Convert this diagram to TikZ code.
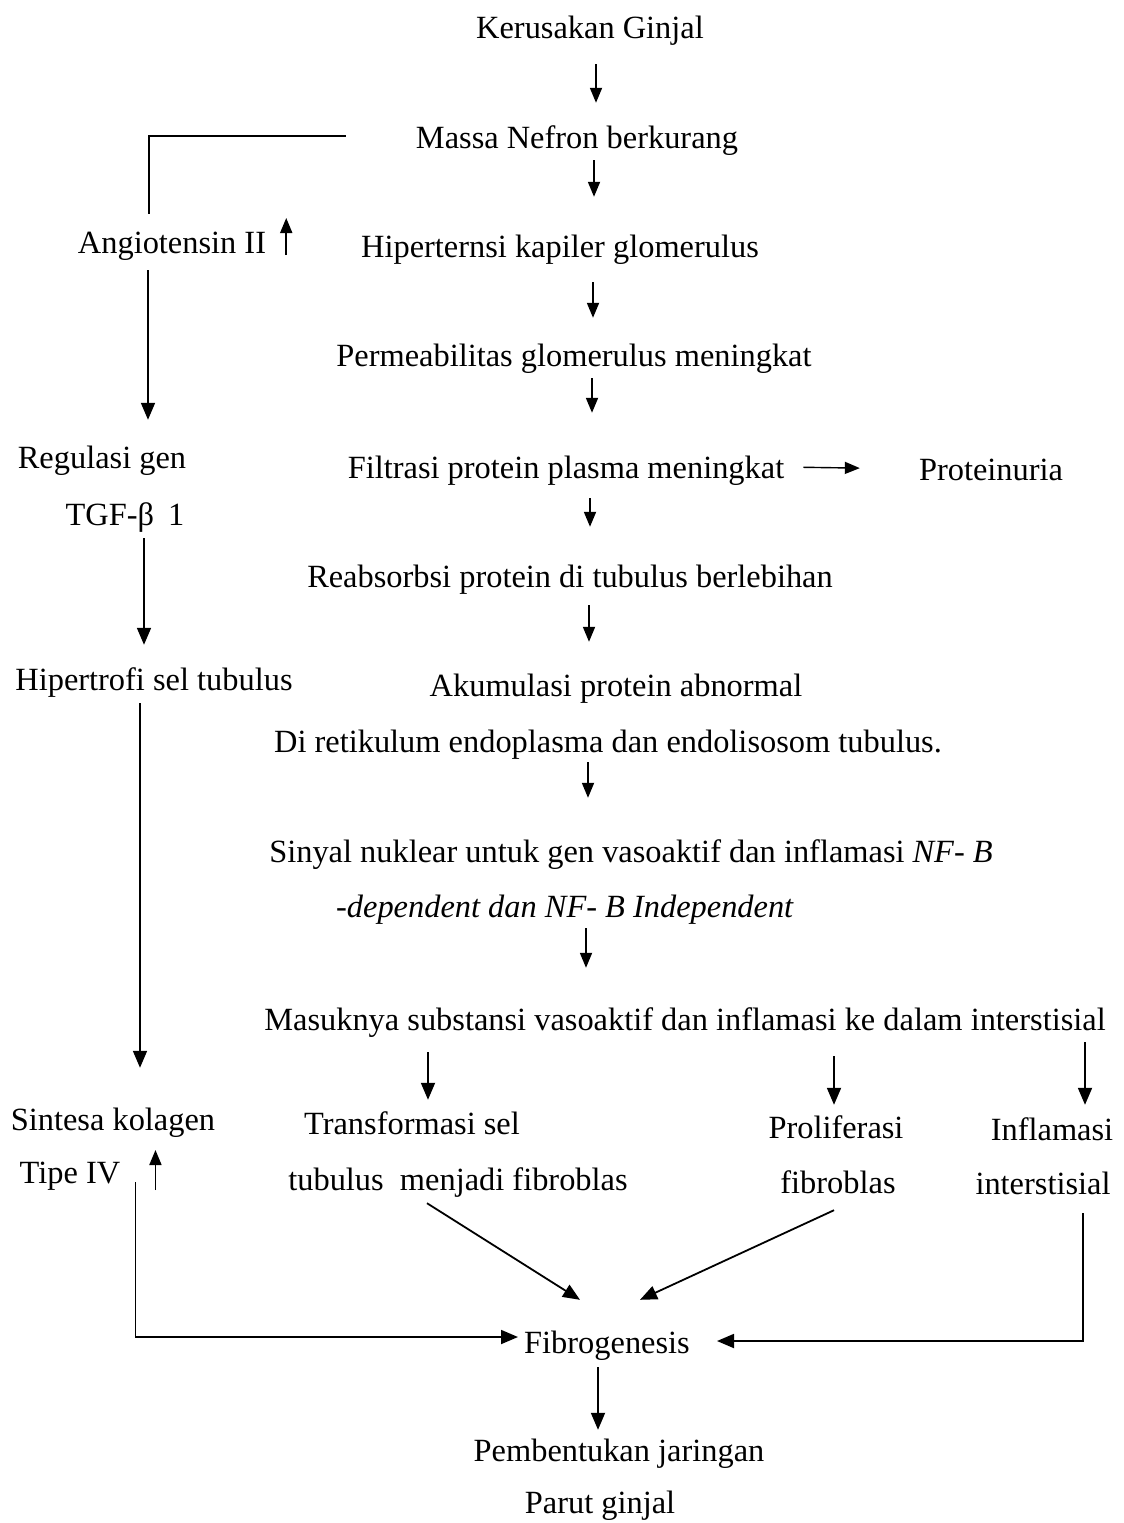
\documentclass[tikz,border=0pt]{standalone}
\usepackage{fontspec}
\setmainfont{Liberation Serif}
\usetikzlibrary{arrows.meta}
\begin{document}
\begin{tikzpicture}[x=1pt,y=-1pt,
  every node/.style={inner sep=0pt,anchor=base,text height=22pt,text depth=7pt,
    font=\rmfamily\fontsize{32.4}{38}\selectfont},
  link/.style={line width=1.8pt},
  arr/.style={link,-{Triangle[length=17pt,width=14pt]}},
  sarr/.style={link,-{Triangle[length=15pt,width=12pt]}}]
\useasboundingbox (0,0) rectangle (1124,1523);

% main column
\node (ker) at (590,38) {Kerusakan Ginjal};
\node (mas) at (577,148) {Massa Nefron berkurang};
\node (hip) at (560,257) {Hiperternsi kapiler glomerulus};
\node (per) at (574,366) {Permeabilitas glomerulus meningkat};
\node (fil) at (566,478) {Filtrasi protein plasma meningkat};
\node (pro) at (991,480) {Proteinuria};
\node (rea) at (570,587) {Reabsorbsi protein di tubulus berlebihan};
\node (aku) at (616,696) {Akumulasi protein abnormal};
\node (dir) at (608,752) {Di retikulum endoplasma dan endolisosom tubulus.};
\node (sin) at (631,862) {Sinyal nuklear untuk gen vasoaktif dan inflamasi \textit{NF- B}};
\node (dep) at (565,917) {\textit{-dependent dan NF- B Independent}};
\node (msk) at (685,1030) {Masuknya substansi vasoaktif dan inflamasi ke dalam interstisial};

% three outcomes
\node (traA) at (412,1134) {Transformasi sel};
\node (traB) at (458,1190) {tubulus\ \ menjadi fibroblas};
\node (prlA) at (836,1138) {Proliferasi};
\node (prlB) at (838,1193) {fibroblas};
\node (infA) at (1052,1140) {Inflamasi};
\node (infB) at (1043,1194) {interstisial};

% left column
\node (ang) at (172,253) {Angiotensin II};
\node (reg) at (102,468) {Regulasi gen};
\node (tgf) at (125,525) {TGF-β\hspace{14pt}1};
\node (hpt) at (154,690) {Hipertrofi sel tubulus};
\node (sinA) at (113,1130) {Sintesa kolagen};
\node (sinB) at (70,1183) {Tipe IV};

% bottom
\node (fib) at (607,1353) {Fibrogenesis};
\node (pem) at (619,1461) {Pembentukan jaringan};
\node (par) at (600,1513) {Parut ginjal};

% main column arrows
\draw[sarr,shorten <=19pt,shorten >=23pt] (ker.south -| 596,0) -- (mas.north -| 596,0);
\draw[sarr,shorten <=5pt,shorten >=38pt] (mas.south -| 594,0) -- (hip.north -| 594,0);
\draw[sarr,shorten <=18pt,shorten >=26pt] (hip.south -| 593,0) -- (per.north -| 593,0);
\draw[sarr,shorten <=5pt,shorten >=43pt] (per.south -| 592,0) -- (fil.north -| 592,0);
\draw[sarr,shorten <=13pt,shorten >=38pt] (fil.south -| 590,0) -- (rea.north -| 590,0);
\draw[sarr,shorten <=11pt,shorten >=32pt] (rea.south -| 589,0) -- (aku.north -| 589,0);
\draw[sarr,shorten <=3pt,shorten >=42pt] (dir.south -| 588,0) -- (sin.north -| 588,0);
\draw[sarr,shorten <=4pt,shorten >=40pt] (dep.south -| 586,0) -- (msk.north -| 586,0);
\draw[sarr,line width=1.4pt,shorten <=19pt,shorten >=59pt]
  ([yshift=11pt]fil.base east) -- ([yshift=11pt]pro.base west);

% branches into the outcomes
\draw[arr,shorten <=15pt,shorten >=12pt] (msk.south -| 428,0) -- (traA.north -| 428,0);
\draw[arr,shorten <=19pt,shorten >=11pt] (msk.south -| 834,0) -- (prlA.north -| 834,0);
\draw[arr,shorten <=5pt,shorten >=13pt] (msk.south -| 1085,0) -- (infA.north -| 1085,0);

% outcomes into fibrogenesis
\draw[arr] ([xshift=-31pt,yshift=-6pt]traB.south) -- ([xshift=-27pt,yshift=31pt]fib.north);
\draw[arr] ([xshift=-4pt,yshift=-10pt]prlB.south) -- ([xshift=33pt,yshift=31pt]fib.north);
\draw[arr,shorten >=6pt] ([xshift=15pt,yshift=1pt]sinB.base east) |- ([yshift=16pt]fib.base west);
\draw[arr,shorten <=12pt,shorten >=27pt] (infB.south -| 1083,0) |- ([yshift=12pt]fib.base east);
\draw[arr,shorten <=7pt,shorten >=9pt] (fib.south -| 598,0) -- (pem.north -| 598,0);

% left column
\draw[link,shorten >=17pt] ([xshift=-70pt,yshift=12pt]mas.base west) -| (ang.north -| 149,0);
\draw[sarr] ([xshift=20pt,yshift=-2pt]ang.base east) -- ([xshift=20pt,yshift=35pt]ang.base east);
\draw[arr,shorten <=10pt,shorten >=26pt] (ang.south -| 148,0) -- (reg.north -| 148,0);
\draw[arr,shorten <=6pt,shorten >=23pt] (tgf.south -| 144,0) -- (hpt.north -| 144,0);
\draw[arr,shorten <=6pt,shorten >=40pt] (hpt.south -| 140,0) -- (sinA.north -| 140,0);
\draw[sarr] ([xshift=35pt,yshift=-7pt]sinB.base east) -- ([xshift=35pt,yshift=33pt]sinB.base east);
\end{tikzpicture}
\end{document}
